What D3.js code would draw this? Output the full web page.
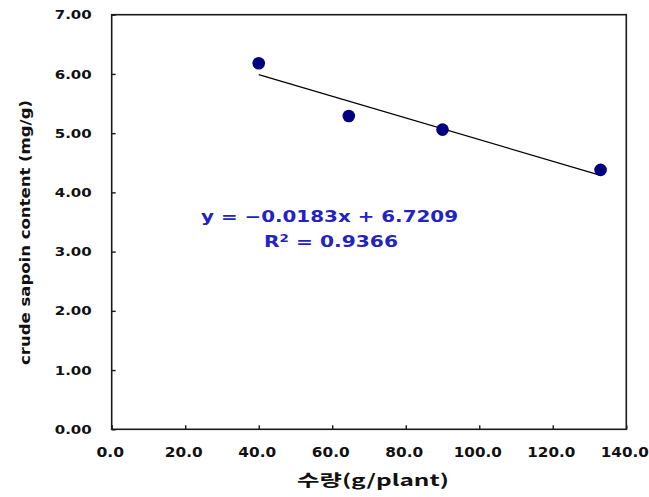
<!DOCTYPE html>
<html>
<head>
<meta charset="utf-8">
<script src="https://cdn.jsdelivr.net/npm/d3@7"></script>
<style>
  html, body { margin: 0; padding: 0; background: #fff; }
  svg { display: block; }
</style>
</head>
<body>
<svg id="chart" width="649" height="497"></svg>
<script>
// ---- data ----
const waterAmount = [40.0, 64.5, 90.0, 133.0];      // x: 수량 (g/plant)
const saponinContent = [6.18, 5.29, 5.06, 4.38];     // y: crude saponin (mg/g)
const trendSlope = -0.0183;
const trendIntercept = 6.7209;
const equationLabel = "y = \u22120.0183x + 6.7209";
const rSquaredLabel = "0.9366";
const xTicks = [0, 20, 40, 60, 80, 100, 120, 140];
const yTicks = [0, 1, 2, 3, 4, 5, 6, 7];
const xTitle = "수량(g/plant)";
const yTitle = "crude sapoin content (mg/g)";

// ---- drawing ----
const svg = d3.select("#chart");
const x = d3.scaleLinear().domain([0, 140]).range([111.7, 626.3]);
const y = d3.scaleLinear().domain([0, 7]).range([429.3, 14.7]);
const axisColor = "#1a1a1a";
const tickFont = "'DejaVu Sans', sans-serif";

// frame
svg.append("rect")
  .attr("x", x(0)).attr("y", y(7))
  .attr("width", x(140) - x(0)).attr("height", y(0) - y(7))
  .attr("fill", "none").attr("stroke", axisColor).attr("stroke-width", 1.6);

// x axis (ticks inward)
const xAxis = svg.append("g")
  .attr("transform", `translate(0,${y(0)})`)
  .call(d3.axisBottom(x).tickValues(xTicks).tickSizeInner(-4).tickSizeOuter(0).tickFormat(d3.format(".1f")));
xAxis.select(".domain").remove();
xAxis.selectAll(".tick line").attr("stroke", axisColor).attr("stroke-width", 1.4);
xAxis.selectAll(".tick text")
  .attr("y", 0).attr("dy", 0)
  .attr("transform", "translate(-2,27.4)")
  .attr("font-family", tickFont).attr("font-weight", "bold").attr("font-size", 13.5)
  .attr("fill", "#111")
  .attr("lengthAdjust", "spacingAndGlyphs")
  .attr("textLength", function() { return this.textContent.length * 10.2 - 3; });

// y axis (ticks inward)
const yAxis = svg.append("g")
  .attr("transform", `translate(${x(0)},0)`)
  .call(d3.axisLeft(y).tickValues(yTicks).tickSizeInner(-4).tickSizeOuter(0).tickFormat(d3.format(".2f")));
yAxis.select(".domain").remove();
yAxis.selectAll(".tick text")
  .attr("x", -20).attr("dy", "0.36em")
  .attr("text-anchor", "end")
  .attr("font-family", tickFont).attr("font-weight", "bold").attr("font-size", 11.5)
  .attr("fill", "#111")
  .attr("lengthAdjust", "spacingAndGlyphs")
  .attr("textLength", 37);
yAxis.selectAll(".tick line").attr("stroke", axisColor).attr("stroke-width", 1.4);

// trend line
const xr = d3.extent(waterAmount);
svg.append("line")
  .attr("x1", x(xr[0])).attr("y1", y(trendSlope * xr[0] + trendIntercept))
  .attr("x2", x(xr[1])).attr("y2", y(trendSlope * xr[1] + trendIntercept))
  .attr("stroke", "#000").attr("stroke-width", 1.2);

// points
svg.append("g").selectAll("circle")
  .data(waterAmount.map((v, i) => [v, saponinContent[i]]))
  .join("circle")
  .attr("cx", d => x(d[0])).attr("cy", d => y(d[1]))
  .attr("r", 6.3)
  .attr("fill", "#000080");

// equation text
const eqColor = "#2323c4";
svg.append("text")
  .attr("x", 201).attr("y", 221.7)
  .attr("font-family", tickFont).attr("font-weight", "bold").attr("font-size", 15)
  .attr("fill", eqColor)
  .attr("lengthAdjust", "spacingAndGlyphs").attr("textLength", 257)
  .text(equationLabel);
const r2 = svg.append("text")
  .attr("x", 264).attr("y", 246.5)
  .attr("font-family", tickFont).attr("font-weight", "bold").attr("font-size", 15)
  .attr("fill", eqColor)
  .attr("lengthAdjust", "spacingAndGlyphs").attr("textLength", 134);
r2.append("tspan").text("R");
r2.append("tspan").attr("dy", -5).attr("font-size", 10).text("2");
r2.append("tspan").attr("dy", 5).text(" = " + rSquaredLabel);

// axis titles
svg.append("text")
  .attr("x", 373).attr("y", 486)
  .attr("text-anchor", "middle")
  .attr("font-family", "'Noto Sans CJK KR', sans-serif").attr("font-weight", "bold").attr("font-size", 16)
  .attr("fill", "#111")
  .attr("lengthAdjust", "spacingAndGlyphs").attr("textLength", 152)
  .text(xTitle);

svg.append("text")
  .attr("transform", "translate(30,232.5) rotate(-90)")
  .attr("text-anchor", "middle")
  .attr("font-family", tickFont).attr("font-weight", "bold").attr("font-size", 14.5)
  .attr("fill", "#111")
  .attr("lengthAdjust", "spacingAndGlyphs").attr("textLength", 265)
  .text(yTitle);
</script>
</body>
</html>
